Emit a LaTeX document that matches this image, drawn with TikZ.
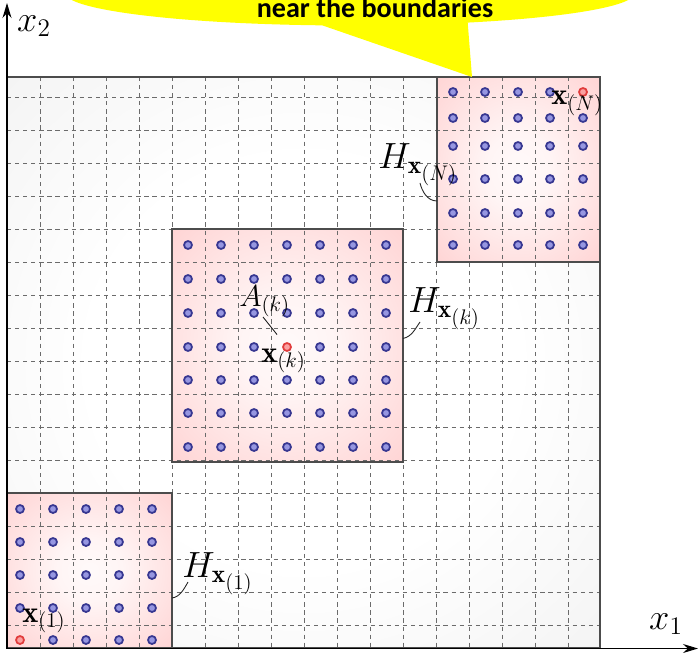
\documentclass[tikz,border=0pt]{standalone}
\usepackage{amsmath}
\usepackage{amssymb}
\usepackage{fontspec}
\newfontfamily\calloutfont{Carlito}
\usepackage{tikz}
\usetikzlibrary{
    arrows.meta,
    positioning,
    calc,
    shapes.callouts
}
\definecolor{dotC}    {RGB}{ 55, 55,145}
\definecolor{dotFill} {RGB}{150,150,225}
\definecolor{seedC}   {RGB}{225, 60, 60}
\definecolor{seedFill}{RGB}{250,160,160}
\definecolor{gridC}   {gray}{0.42}
\definecolor{edgeC}   {gray}{0.30}
\definecolor{noteC}   {RGB}{255,255,0}
\pgfdeclareradialshading{bgglow}{\pgfpoint{0bp}{0bp}}{%
  color(0bp)=(white); color(18bp)=(white); color(50bp)=(gray!16); color(100bp)=(gray!16)}
\pgfdeclareradialshading{boxglow}{\pgfpoint{0bp}{0bp}}{%
  color(0bp)=(red!2); color(10bp)=(red!4); color(50bp)=(red!24); color(100bp)=(red!24)}
\tikzset{
  block/.style  = {shading=boxglow, inner sep=0pt, outer sep=0pt},
  gline/.style  = {gridC, line width=0.5pt, dash pattern=on 2.4pt off 2.2pt},
  edge/.style   = {edgeC, line width=0.9pt},
  axis/.style   = {-{Stealth[length=0.3cm, width=0.18cm]}, black, line width=0.8pt},
  pt/.style     = {circle, draw=dotC, fill=dotFill, line width=1pt,
                   minimum size=0.16cm, inner sep=0pt},
  seed/.style   = {circle, draw=seedC, fill=seedFill, line width=1pt,
                   minimum size=0.16cm, inner sep=0pt},
  hlbl/.style   = {inner sep=0pt, anchor=base west, font=\huge},
  blbl/.style   = {inner sep=0pt, anchor=base west, font=\LARGE},
  link/.style   = {black!85, line width=0.5pt}
}
% dots of one block: name, x list, y list, seed column, seed row
\newcommand{\dotgrid}[5]{%
  \foreach \x [count=\i] in {#2}{
    \foreach \y [count=\j] in {#3}{
      \ifnum\i=#4 \ifnum\j=#5
        \node[seed] (#1-\i-\j) at (\x,\y) {};
      \else
        \node[pt] (#1-\i-\j) at (\x,\y) {};
      \fi \else
        \node[pt] (#1-\i-\j) at (\x,\y) {};
      \fi
    }
  }
}

\begin{document}
\begin{tikzpicture}[>=Stealth, x=0.02cm, y=-0.02cm]
  \useasboundingbox (0,0) rectangle (699,652);

  %% ── Domain ────────────────────────────────────────────────────
  \shade[shading=bgglow] (7,77) rectangle (600,648);

  %% ── Blocks ────────────────────────────────────────────────────
  \node[block, minimum width=3.30cm, minimum height=3.10cm] (blkOne) at ( 89.5,570.5) {};
  \node[block, minimum width=4.62cm, minimum height=4.66cm] (blkK)   at (287.5,345.5) {};
  \node[block, minimum width=3.26cm, minimum height=3.70cm] (blkN)   at (518.5,169.5) {};

  %% ── Grid ──────────────────────────────────────────────────────
  \foreach \x in {40,73,...,568}
    \draw[gline] (\x,77) -- (\x,648);
  \foreach \y in {97,130,...,625}
    \draw[gline] (7,\y) -- (600,\y);

  \foreach \b in {blkOne, blkK, blkN}
    \draw[edge] (\b.south west) rectangle (\b.north east);
  \draw[edge] (7,77) rectangle (600,648);

  %% ── Axes ──────────────────────────────────────────────────────
  \coordinate (origin) at (7,648.5);
  \coordinate (xoneEnd) at (698,648.5);
  \coordinate (xtwoEnd) at (7,3);
  \draw[axis] (origin) -- (xoneEnd);
  \draw[axis] (origin) -- (xtwoEnd);
  \node[font=\huge, inner sep=0pt] (xtwo) at (34,26)  {$x_2$};
  \node[font=\huge, inner sep=0pt] (xone) at (666,624) {$x_1$};

  %% ── Points ────────────────────────────────────────────────────
  \dotgrid{dOne}{20,53,86,119,152}{509,542,575,608,640}{1}{5}
  \dotgrid{dK}{188,221,254,287,320,353,386}{245,279,313,347,380,413,447}{4}{4}
  \dotgrid{dN}{453,485,518,550,583}{92,118,146,179,213,245}{5}{1}

  %% ── Labels ────────────────────────────────────────────────────
  \node[blbl] (xOne) at ( 22,622) {$\mathbf{x}_{(1)}$};
  \node[blbl] (xK)   at (261,362) {$\mathbf{x}_{(k)}$};
  \node[blbl] (xN)   at (551,105) {$\mathbf{x}_{(N)}$};
  \node[blbl] (aK)   at (239,306) {$A_{(k)}$};

  \node[hlbl] (hOne) at (182,577) {$H_{\mathbf{x}_{(1)}}$};
  \node[hlbl] (hK)   at (408,312) {$H_{\mathbf{x}_{(k)}}$};
  \node[hlbl] (hN)   at (378,168) {$H_{\mathbf{x}_{(N)}}$};

  %% ── Leaders ───────────────────────────────────────────────────
  \draw[link] ([yshift=0.14cm]blkK.east)
    .. controls +(9,-2) and +(-5,7) .. ([xshift=0.24cm, yshift=-0.2cm]hK.base west);
  \draw[link] ([yshift=-0.55cm]blkOne.east)
    .. controls +(8,-1) and +(-4,7) .. ([xshift=0.12cm, yshift=-0.1cm]hOne.base west);
  \draw[link] ([yshift=-0.63cm]blkN.west)
    .. controls +(-10,0) and +(2,8) .. ([xshift=0.84cm, yshift=-0.3cm]hN.base west);
  \draw[link, shorten >=0.22cm] ([xshift=0.48cm, yshift=-0.22cm]aK.base west) -- (dK-4-4);

  %% ── Callout ───────────────────────────────────────────────────
  \coordinate (noteTip) at (472,77);
  \node[ellipse callout, fill=noteC, inner sep=0pt, minimum width=11.4cm,
        minimum height=1.3cm, callout pointer arc=30,
        callout absolute pointer={(noteTip)}] (note) at (350,-7) {};
  \node[font=\calloutfont\bfseries\fontsize{16}{19}\selectfont, anchor=base,
        inner sep=0pt] (noteText) at (375,18) {near the boundaries};

\end{tikzpicture}
\end{document}
